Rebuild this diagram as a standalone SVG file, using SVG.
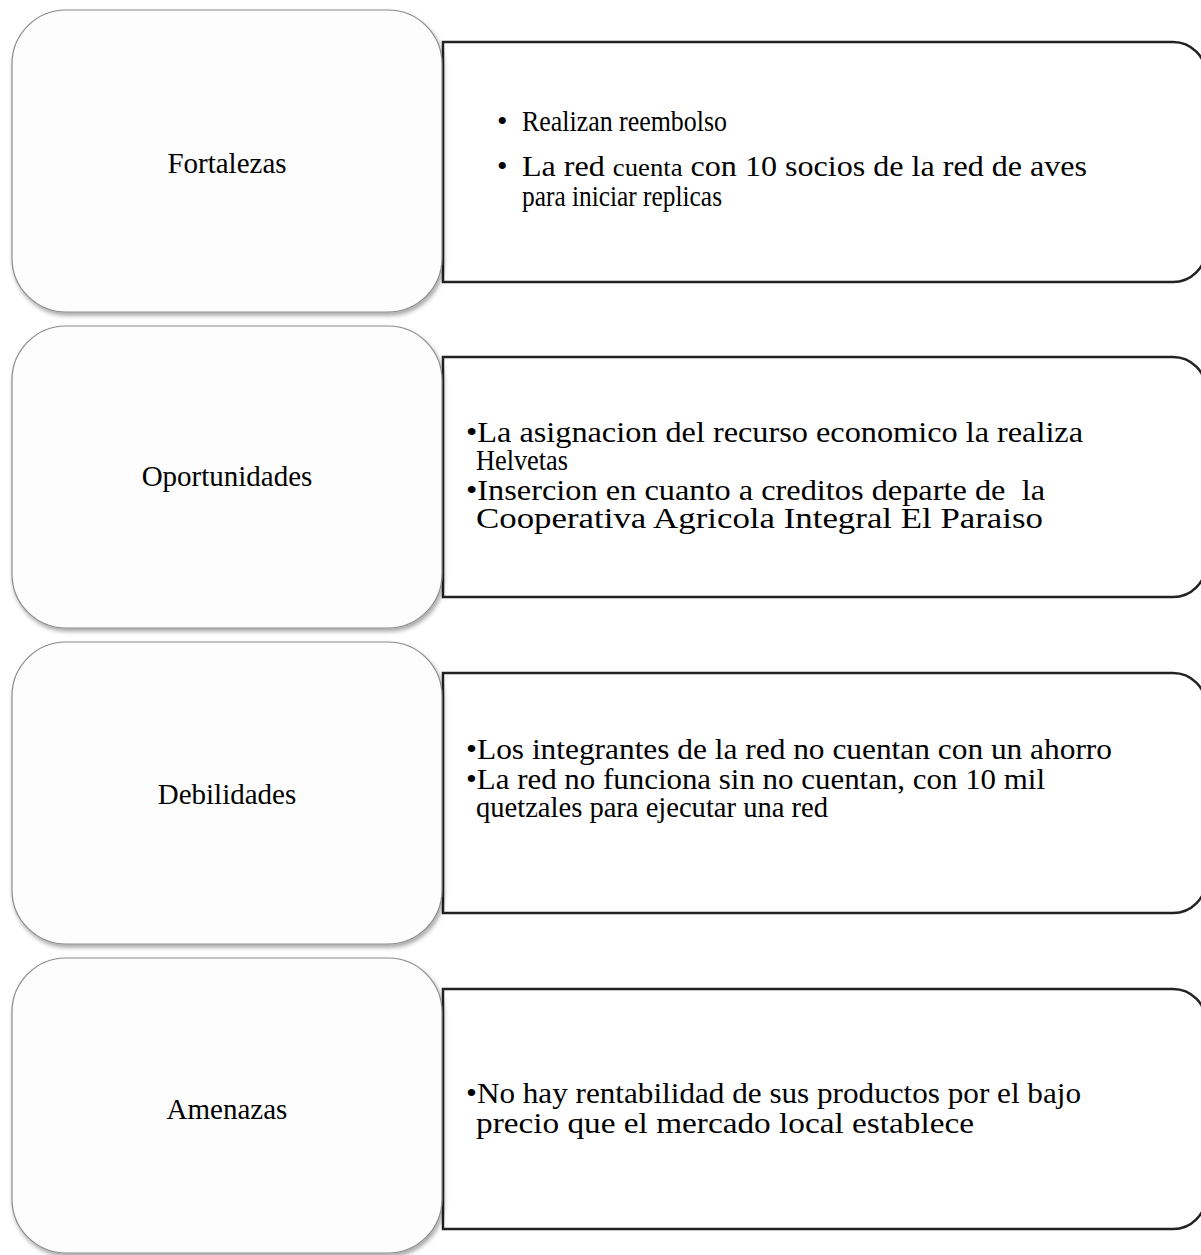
<svg xmlns="http://www.w3.org/2000/svg" width="1201" height="1255" viewBox="0 0 1201 1255">
<style>
.rbox{fill:#ffffff;stroke:#222222;stroke-width:2.5}
.lbox{fill:#fdfdfd;stroke:#8c8c8c;stroke-width:1.2}
.lbl{font-family:"Liberation Serif","Times New Roman",serif;font-size:29px;fill:#000;text-anchor:middle}
.txt{font-family:"Liberation Serif","Times New Roman",serif;font-size:30px;fill:#000}
</style>
<defs>
<filter id="sh" x="-10%" y="-10%" width="125%" height="125%">
<feDropShadow dx="1.5" dy="3" stdDeviation="2.2" flood-color="#000" flood-opacity="0.35"/>
</filter>
</defs>
<g id="connectors"></g>
<g id="detail-fortalezas">
<path class="rbox" d="M443,42 H1173 A33,33 0 0 1 1206,75 V249 A33,33 0 0 1 1173,282 H443 Z"/>
<text class="txt" x="497" y="131">•</text>
<text class="txt" x="522" y="131" textLength="205" lengthAdjust="spacingAndGlyphs">Realizan reembolso</text>
<text class="txt" x="497" y="176">•</text>
<text class="txt" x="522" y="176" textLength="565" lengthAdjust="spacingAndGlyphs">La red <tspan font-size="25">cuenta</tspan> con 10 socios de la red de aves</text>
<text class="txt" x="522" y="206" textLength="200" lengthAdjust="spacingAndGlyphs">para iniciar replicas</text>
</g>
<g id="detail-oportunidades">
<path class="rbox" d="M443,357 H1173 A33,33 0 0 1 1206,390 V564 A33,33 0 0 1 1173,597 H443 Z"/>
<text class="txt" x="466" y="442" textLength="617" lengthAdjust="spacingAndGlyphs">•La asignacion del recurso economico la realiza</text>
<text class="txt" x="476" y="470" textLength="92" lengthAdjust="spacingAndGlyphs">Helvetas</text>
<text class="txt" x="466" y="500" textLength="579" lengthAdjust="spacingAndGlyphs" xml:space="preserve">•Insercion en cuanto a creditos departe de  la</text>
<text class="txt" x="476" y="528" textLength="567" lengthAdjust="spacingAndGlyphs">Cooperativa Agricola Integral El Paraiso</text>
</g>
<g id="detail-debilidades">
<path class="rbox" d="M443,673 H1173 A33,33 0 0 1 1206,706 V880 A33,33 0 0 1 1173,913 H443 Z"/>
<text class="txt" x="466" y="759" textLength="646" lengthAdjust="spacingAndGlyphs">•Los integrantes de la red no cuentan con un ahorro</text>
<text class="txt" x="466" y="789" textLength="579" lengthAdjust="spacingAndGlyphs">•La red no funciona sin no cuentan, con 10 mil</text>
<text class="txt" x="476" y="817" textLength="352" lengthAdjust="spacingAndGlyphs">quetzales para ejecutar una red</text>
</g>
<g id="detail-amenazas">
<path class="rbox" d="M443,989 H1173 A33,33 0 0 1 1206,1022 V1196 A33,33 0 0 1 1173,1229 H443 Z"/>
<text class="txt" x="466" y="1103" textLength="615" lengthAdjust="spacingAndGlyphs">•No hay rentabilidad de sus productos por el bajo</text>
<text class="txt" x="476" y="1133" textLength="498" lengthAdjust="spacingAndGlyphs">precio que el mercado local establece</text>
</g>
<g id="fortalezas">
<rect class="lbox" x="12" y="10" width="430" height="302" rx="54" ry="54" filter="url(#sh)"/>
<text class="lbl" x="227" y="173">Fortalezas</text>
</g>
<g id="oportunidades">
<rect class="lbox" x="12" y="326" width="430" height="302" rx="54" ry="54" filter="url(#sh)"/>
<text class="lbl" x="227" y="486">Oportunidades</text>
</g>
<g id="debilidades">
<rect class="lbox" x="12" y="642" width="430" height="302" rx="54" ry="54" filter="url(#sh)"/>
<text class="lbl" x="227" y="804">Debilidades</text>
</g>
<g id="amenazas">
<rect class="lbox" x="12" y="958" width="430" height="295" rx="54" ry="54" filter="url(#sh)"/>
<text class="lbl" x="227" y="1119">Amenazas</text>
</g>
</svg>
